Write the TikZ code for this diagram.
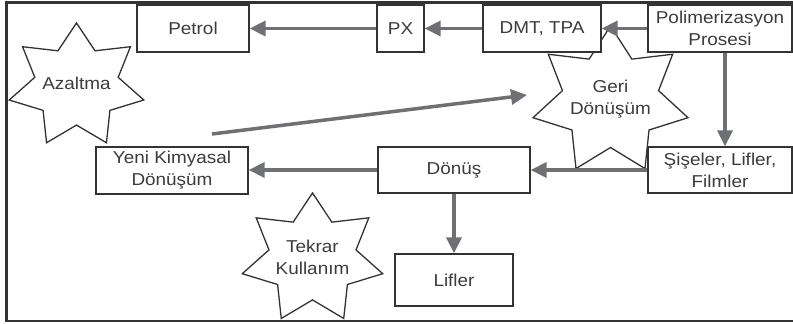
\documentclass[tikz,border=0pt]{standalone}
\usepackage{fontspec}
\setmainfont{Liberation Sans}[FakeStretch=1.1]
\usetikzlibrary{arrows.meta}
\definecolor{boxline}{HTML}{333333}
\definecolor{arrowgray}{HTML}{6F7073}
\definecolor{txt}{HTML}{3C3C3C}
\tikzset{
  box/.style={draw=boxline, line width=1.3pt, fill=white, align=center, inner sep=0pt,
    text=txt, font=\fontsize{17.2pt}{22pt}\selectfont},
  startext/.style={align=center, inner sep=0pt, text=txt, font=\fontsize{17.2pt}{22pt}\selectfont},
  starline/.style={draw=boxline, line width=1.3pt, fill=white, line join=miter},
  flow/.style={draw=arrowgray, line width=3.5pt, -{Triangle[length=16pt,width=15pt]}},
  frameline/.style={draw=boxline, line width=2.2pt}
}
\newcommand{\drawstar}[4]{%
  \draw[starline] plot[samples at={0,...,13}, variable=\k]
    ({#1+#3*(1-0.38*mod(\k,2))*cos(90+\k*180/7)},
     {#2-#4*(1-0.38*mod(\k,2))*sin(90+\k*180/7)}) -- cycle;}
\begin{document}
\begin{tikzpicture}[x=1pt,y=-1pt]
\useasboundingbox (0,0) rectangle (793,324);
\fill[white] (0,0) rectangle (793,324);
% frame
\draw[frameline] (793,2.5) -- (6.5,2.5) -- (6.5,321) -- (793,321);
% stars
\drawstar{76.5}{86}{69}{63}
\drawstar{610.5}{101}{79.5}{75}
\drawstar{312.5}{259}{72}{66}
\node[startext] (azaltma) at (76.5,83) {Azaltma};
\node[startext] (geri) at (610.5,99) {Geri\\Dönüşüm};
\node[startext] (tekrar) at (312.5,257) {Tekrar\\Kullanım};
% boxes
\node[box, minimum width=112pt, minimum height=47pt] (petrol) at (193,28.5) {Petrol};
\node[box, minimum width=47pt, minimum height=47pt] (px) at (400.5,28.5) {PX};
\node[box, minimum width=118pt, minimum height=47pt] (dmt) at (542,28.5) {DMT, TPA};
\node[box, minimum width=144pt, minimum height=47pt] (poli) at (720,28.5) {Polimerizasyon\\Prosesi};
\node[box, minimum width=152pt, minimum height=47pt] (yeni) at (172,170.5) {Yeni Kimyasal\\Dönüşüm};
\node[box, minimum width=152pt, minimum height=46pt] (donus) at (454,170) {Dönüş};
\node[box, minimum width=144pt, minimum height=46pt] (sise) at (720,170) {Şişeler, Lifler,\\Filmler};
\node[box, minimum width=118pt, minimum height=52pt] (lifler) at (454,280) {Lifler};
% arrows
\coordinate (dstart) at (212,134);
\coordinate (dend) at (527,95);
\draw[flow] (poli.west) -- (dmt.east);
\draw[flow] (dmt.west) -- (px.east);
\draw[flow] (px.west) -- (petrol.east);
\draw[flow] ([xshift=5pt]poli.south) -- ([xshift=5pt]sise.north);
\draw[flow] (sise.west) -- (donus.east);
\draw[flow] (donus.west) -- (donus.west -| yeni.east);
\draw[flow] (donus.south) -- (lifler.north);
\draw[flow] (dstart) -- (dend);
\end{tikzpicture}
\end{document}
